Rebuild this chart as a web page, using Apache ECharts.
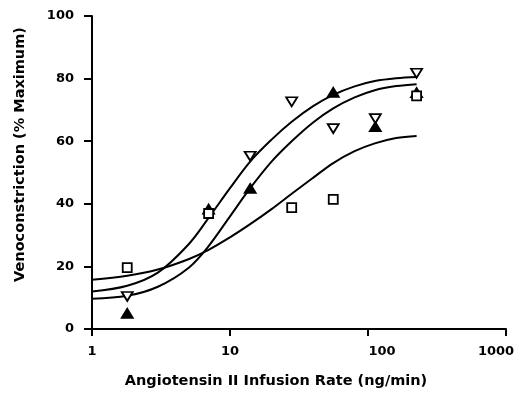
<!DOCTYPE html>
<html>
<head>
<meta charset="utf-8">
<script src="https://cdn.jsdelivr.net/npm/echarts@6/dist/echarts.min.js"></script>
<style>html,body{margin:0;padding:0;background:#fff}#c{width:528px;height:394px}</style>
</head>
<body>
<div id="c"></div>
<script>
// Measured points
const squareX = [1.8, 7, 28, 56, 225];
const squareY = [19.6, 36.9, 38.8, 41.4, 74.5];
const upX = [1.8, 7, 14, 56, 113, 225];
const upY = [5, 38.3, 44.9, 75.6, 64.6, 75.5];
const downX = [1.8, 14, 28, 56, 113, 225];
const downY = [10.4, 55.2, 72.6, 64, 67.2, 81.7];
// Fitted curves
const curveX = [1, 1.8, 3, 5, 7, 10, 14, 20, 28, 40, 56, 80, 112, 160, 225];
const curveDown = [12.0, 13.8, 18.0, 27.0, 35.5, 45.0, 53.5, 60.5, 66.2, 71.2, 74.8, 77.5, 79.2, 80.1, 80.5];
const curveUp = [9.7, 10.6, 13.5, 19.5, 26.5, 36.0, 45.0, 53.5, 60.0, 66.0, 70.5, 74.0, 76.3, 77.6, 78.2];
const curveSquare = [15.7, 17.0, 19.0, 22.3, 25.3, 29.3, 33.5, 38.3, 43.2, 48.3, 53.0, 56.8, 59.3, 61.0, 61.7];
const yTicks = [0, 20, 40, 60, 80, 100];

const zip = (xs, ys) => xs.map((x, i) => [x, ys[i]]);
const font = 'DejaVu Sans, Verdana, sans-serif';
const lab = {fontFamily: font, fontSize: 13, fontWeight: 'bold', color: '#000'};
const chart = echarts.init(document.getElementById('c'));
const lineS = (d) => ({type: 'line', data: zip(curveX, d), smooth: 0.35, symbol: 'none',
  lineStyle: {color: '#000', width: 2}, z: 2, silent: true});
const pts = (xs, ys, sym, fill, rot, size) => ({type: 'scatter', data: zip(xs, ys), symbol: sym,
  symbolRotate: rot, symbolSize: size,
  itemStyle: {color: fill, borderColor: '#000', borderWidth: 1.8, opacity: 1}, z: 3});
chart.setOption({
  animation: false,
  backgroundColor: '#fff',
  grid: {left: 92, right: 22, top: 16, bottom: 61, containLabel: false},
  xAxis: {
    type: 'log', logBase: 10, min: 1, max: 1000,
    name: 'Angiotensin II Infusion Rate (ng/min)', nameLocation: 'middle', nameGap: 45,
    nameTextStyle: {fontFamily: font, fontSize: 14.5, fontWeight: 'bold', color: '#000', padding: [0, 46, 0, 0]},
    axisLine: {lineStyle: {color: '#000', width: 2}},
    axisTick: {inside: false, length: 7, lineStyle: {color: '#000', width: 2}},
    axisLabel: Object.assign({margin: 16,
      formatter: (v) => v === 100 ? '{r|100}' : (v === 1000 ? '{l|1000}' : String(v)),
      rich: {r: Object.assign({padding: [0, 0, 0, 28]}, lab), l: Object.assign({padding: [0, 20, 0, 0]}, lab)}
    }, lab),
    splitLine: {show: false}, minorTick: {show: false}
  },
  yAxis: {
    type: 'value', min: 0, max: 100, interval: 20,
    name: 'Venoconstriction (% Maximum)', nameLocation: 'middle', nameGap: 64,
    nameTextStyle: {fontFamily: font, fontSize: 14.5, fontWeight: 'bold', color: '#000', padding: [0, 0, 0, 36]},
    axisLine: {show: true, lineStyle: {color: '#000', width: 2}},
    axisTick: {show: true, inside: false, length: 8, lineStyle: {color: '#000', width: 2}},
    axisLabel: Object.assign({margin: 18,
      formatter: (v) => yTicks.includes(v) ? String(v) : ''}, lab),
    splitLine: {show: false}
  },
  series: [
    lineS(curveDown), lineS(curveUp), lineS(curveSquare),
    pts(upX, upY, 'triangle', '#000', 0, [11, 9]),
    pts(squareX, squareY, 'rect', '#fff', 0, 9),
    pts(downX, downY, 'triangle', '#fff', 180, [11, 9])
  ]
});
</script>
</body>
</html>
